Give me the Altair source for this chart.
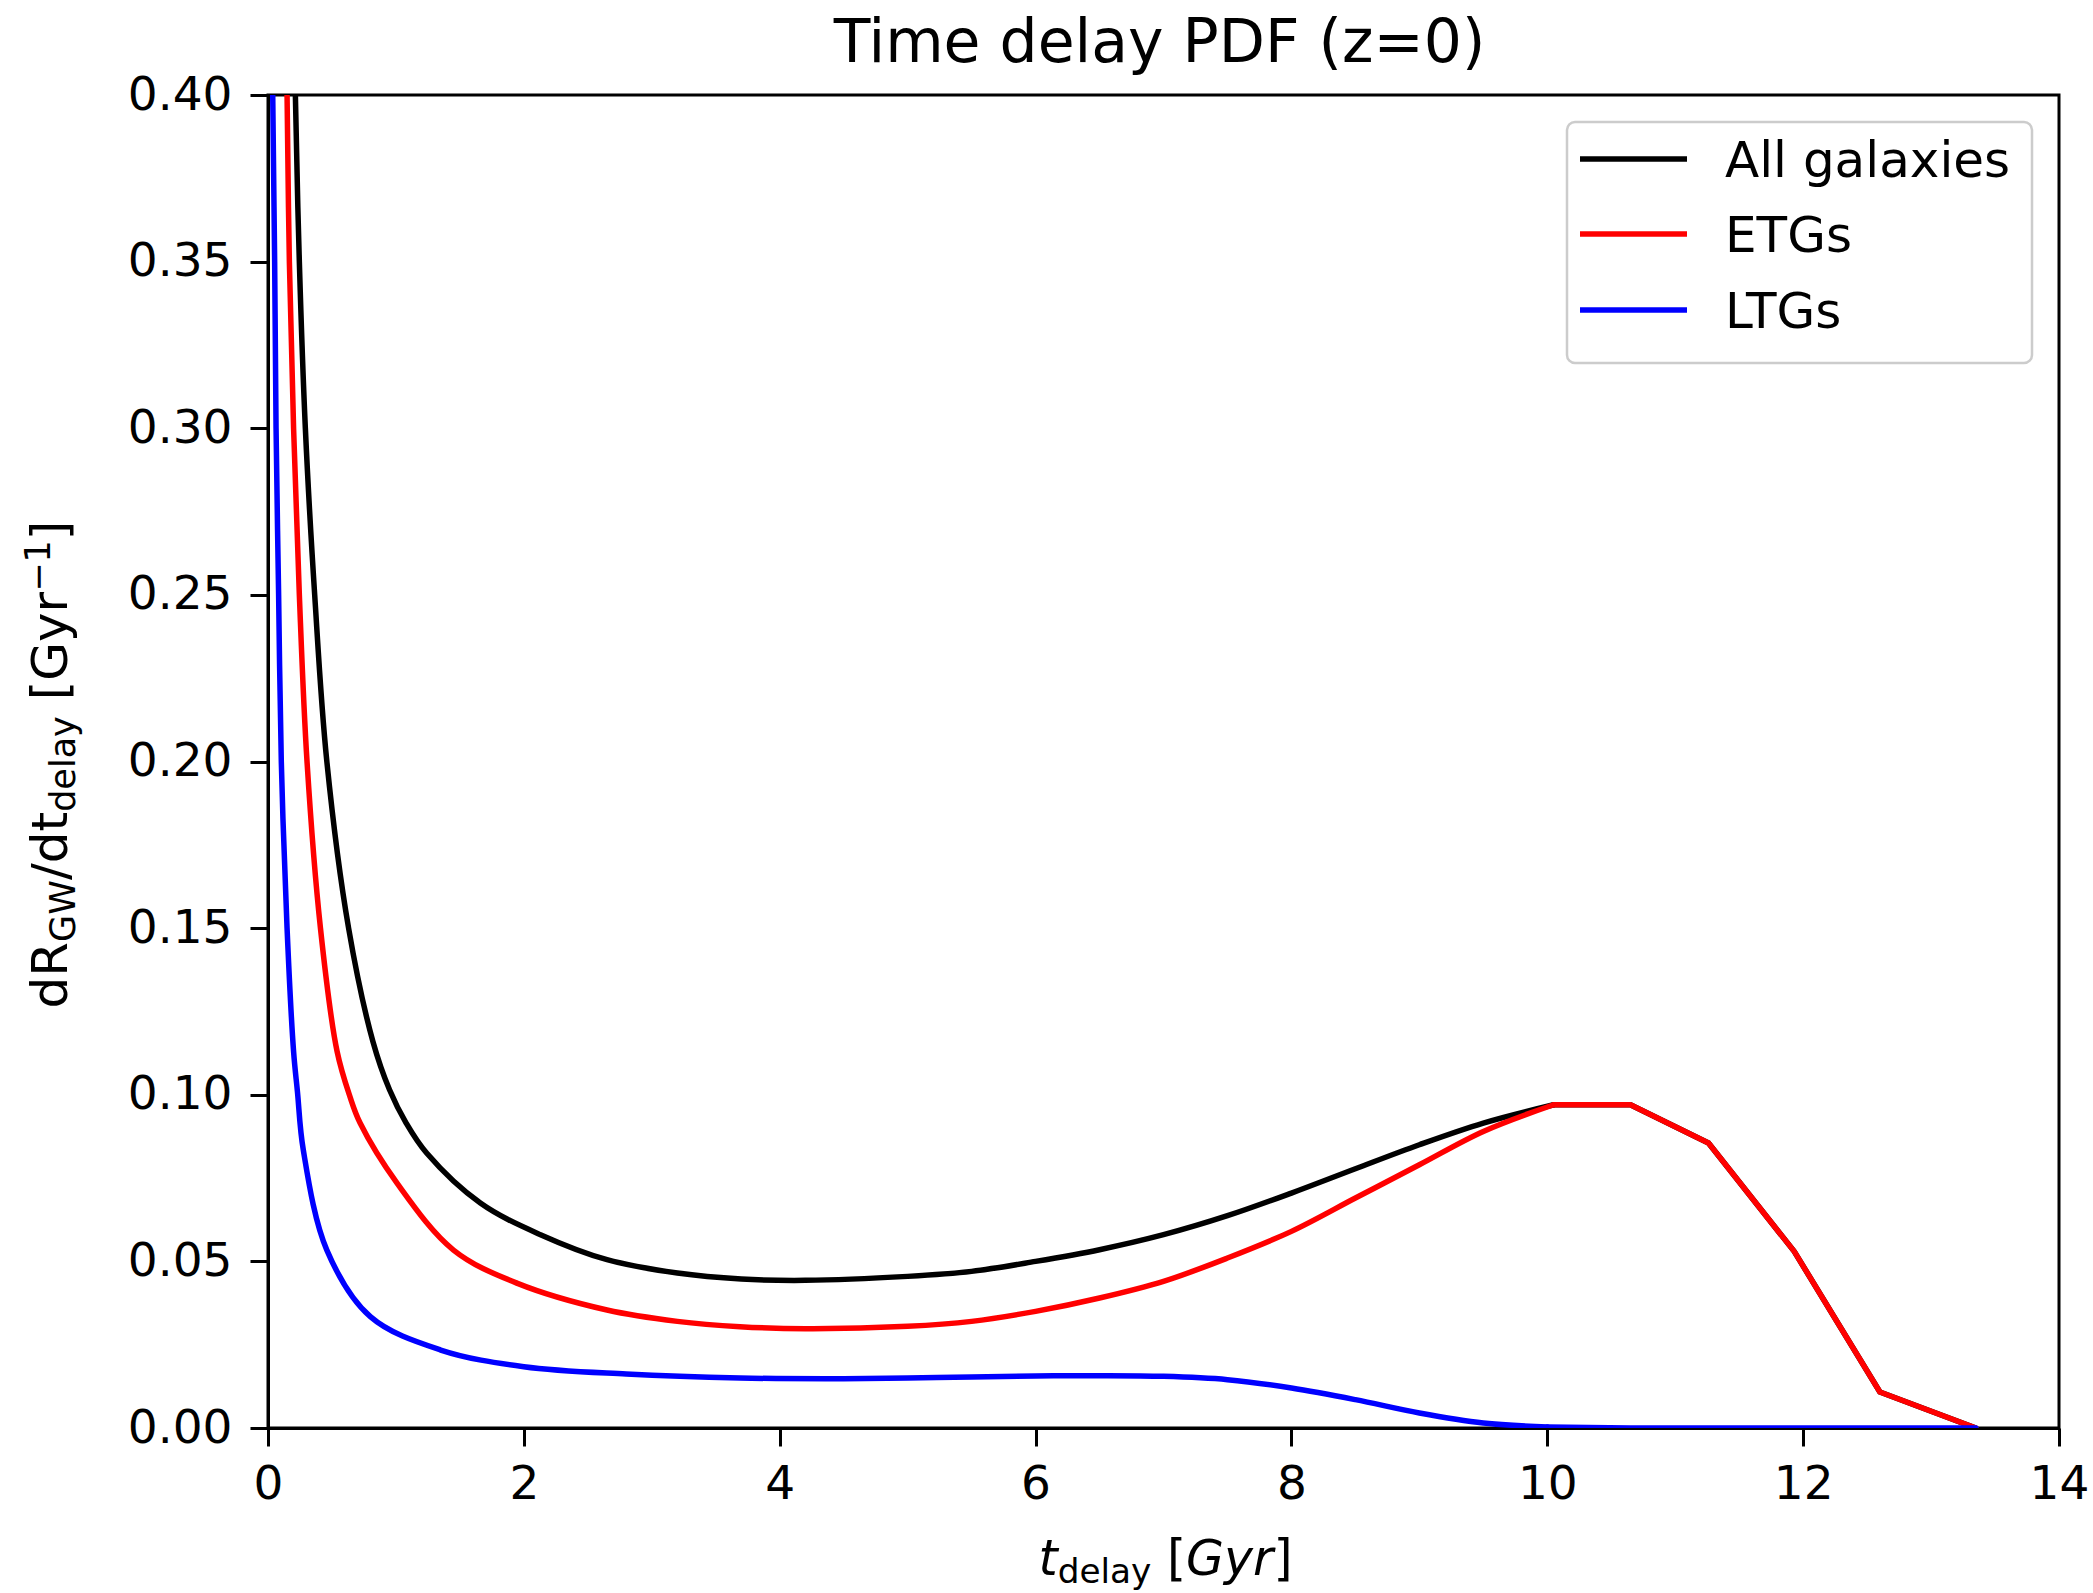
import altair as alt
import pandas as pd

# ---------------- data ----------------
series_names = ["All galaxies", "ETGs", "LTGs"]
series_colors = ["#000000", "#ff0000", "#0000ff"]

t_all = [0.18, 0.214, 0.245, 0.292, 0.365, 0.46, 0.63, 0.82, 0.95, 1.08, 1.24, 1.66, 2.13,
         2.65, 3.2, 3.7, 4.2, 5.0, 5.5, 6.0, 6.5, 7.0, 7.5, 8.0, 8.5, 9.0, 9.5,
         10.05, 10.65, 11.26, 11.93, 12.6, 13.35]
v_all = [0.48, 0.40, 0.35, 0.30, 0.25, 0.20, 0.15, 0.116, 0.1015, 0.0915, 0.0825, 0.0675,
         0.058, 0.0505, 0.0465, 0.0447, 0.0443, 0.0455, 0.047, 0.050, 0.0535, 0.058, 0.0637,
         0.0705, 0.0778, 0.085, 0.0915, 0.097, 0.097, 0.0855, 0.053, 0.0108, 0.0]

t_etg = [0.12, 0.149, 0.167, 0.20, 0.245, 0.305, 0.41, 0.54, 0.64, 0.72, 1.01, 1.45,
         1.95, 2.65, 3.2, 3.69, 4.2, 5.0, 5.5, 6.0, 6.5, 7.0, 7.5, 8.0, 8.5, 9.0, 9.5,
         10.05, 10.65, 11.26, 11.93, 12.6, 13.35]
v_etg = [0.48, 0.40, 0.35, 0.30, 0.25, 0.20, 0.15, 0.113, 0.0995, 0.0915, 0.0734, 0.0534,
         0.0434, 0.0354, 0.032, 0.0304, 0.0298, 0.0305, 0.032, 0.035, 0.039, 0.044, 0.051,
         0.059, 0.069, 0.079, 0.089, 0.097, 0.097, 0.0855, 0.053, 0.0108, 0.0]

t_ltg = [0.025, 0.037, 0.052, 0.063, 0.083, 0.104, 0.149, 0.20, 0.23, 0.276, 0.46, 0.80,
         1.35, 2.0, 2.8, 3.69, 4.5, 5.0, 5.5, 6.0, 6.5, 7.0, 7.5, 8.0, 8.5, 9.0, 9.5,
         10.0, 10.65, 11.26, 11.93, 12.6, 13.35]
v_ltg = [0.48, 0.40, 0.35, 0.30, 0.25, 0.20, 0.15, 0.113, 0.101, 0.0834, 0.0534, 0.0334,
         0.0234, 0.0184, 0.0162, 0.015, 0.0148, 0.0150, 0.0153, 0.0156, 0.0157, 0.0155,
         0.0145, 0.012, 0.0085, 0.0045, 0.0015, 0.0003, 0.0, 0.0, 0.0, 0.0, 0.0]

x_ticks = [0, 2, 4, 6, 8, 10, 12, 14]
y_ticks = [0.0, 0.05, 0.10, 0.15, 0.20, 0.25, 0.30, 0.35, 0.40]

title_text = "Time delay PDF (z=0)"

# ---------------- layout constants ----------------
W, H = 1791, 1333
FONT = "DejaVu Sans"
SPLIT = 10.05          # smooth part / piecewise-linear tail
LW = 5.5

# DejaVu Sans advance widths (units per 2048 em) for text layout
ADV = {'d': 1300, 'R': 1423, 'G': 1595, 'W': 2025, '/': 690, 't': 803, 'e': 1260,
       'l': 569, 'a': 1255, 'y': 1212, ' ': 651, '[': 799, 'r': 842, '\u2212': 1716,
       '1': 1303, ']': 799}


def tw(s, fs):
    return sum(ADV[c] for c in s) / 2048.0 * fs


rows = []
for name, ts, vs in zip(series_names, [t_all, t_etg, t_ltg], [v_all, v_etg, v_ltg]):
    for t, v in zip(ts, vs):
        rows.append({"series": name, "t": t, "v": v})
df = pd.DataFrame(rows)

x_enc = alt.X("t:Q", scale=alt.Scale(domain=[0, 14], nice=False, zero=False),
              axis=alt.Axis(values=x_ticks, format="d", title=None, labelPadding=15,
                            labelFlush=False))
y_enc = alt.Y("v:Q", scale=alt.Scale(domain=[0, 0.4], nice=False),
              axis=alt.Axis(values=y_ticks, format=".2f", title=None, labelPadding=18,
                            labelFlush=False))

layers = []
for name, color in zip(series_names, series_colors):
    sub = df[df.series == name]
    smooth_df = sub[sub.t <= SPLIT]
    tail_df = sub[sub.t >= smooth_df.t.max()]
    smooth = alt.Chart(smooth_df).mark_line(
        clip=True, color=color, strokeWidth=LW, interpolate="catmull-rom",
        strokeCap="round", strokeJoin="round").encode(x=x_enc, y=y_enc)
    tail = alt.Chart(tail_df).mark_line(
        clip=True, color=color, strokeWidth=LW, interpolate="linear",
        strokeCap="round", strokeJoin="round").encode(x=x_enc, y=y_enc)
    layers += [smooth, tail]


def text_layer(txt, x, y, fs, angle=0, italic=False, align="left"):
    kw = dict(font=FONT, fontSize=fs, align=align, baseline="alphabetic", color="#000000")
    if angle:
        kw["angle"] = angle
    if italic:
        kw["fontStyle"] = "italic"
    return alt.Chart(pd.DataFrame({"label": [txt]})).mark_text(**kw).encode(
        text="label:N", x=alt.value(x), y=alt.value(y))


# ---------------- title ----------------
layers.append(text_layer(title_text, W / 2 - 4, -33, 60, align="center"))

# ---------------- x axis title: t_delay [Gyr] ----------------
FX = 49
SX = 0.7 * FX
xpieces = [("t", FX, 0, True), ("delay", SX, 8, False), (" ", FX, 0, False),
           ("[", FX, 0, False), ("Gyr", FX, 0, True), ("]", FX, 0, False)]
total = sum(tw(s, f) for s, f, _, _ in xpieces)
cx = W / 2 + 2 - total / 2
base_y = 1480
for s, f, dy, it in xpieces:
    if s.strip():
        layers.append(text_layer(s, cx, base_y + dy, f, italic=it))
    cx += tw(s, f)

# ---------------- y axis title: dR_GW/dt_delay [Gyr^-1] ----------------
FY = 50
SY = 0.7 * FY
ypieces = [("dR", FY, 0), ("GW", SY, 8), ("/dt", FY, 0), ("delay", SY, 8),
           (" ", FY, 0), ("[Gyr", FY, 0), ("\u22121", SY, -17), ("]", FY, 0)]
total = sum(tw(s, f) for s, f, _ in ypieces)
cy = H / 2 + 3 + total / 2
base_x = -201
for s, f, dx in ypieces:
    if s.strip():
        layers.append(text_layer(s, base_x + dx, cy, f, angle=270))
    cy -= tw(s, f)

# ---------------- legend (upper right, inside the axes) ----------------
leg_box = alt.Chart(pd.DataFrame({"k": [0]})).mark_rect(
    fill="#ffffff", fillOpacity=0.8, stroke="#cccccc", strokeWidth=2.5, cornerRadius=8
).encode(x=alt.value(1299), x2=alt.value(1764), y=alt.value(27), y2=alt.value(268))
layers.append(leg_box)
row_y = [64, 139, 215]
for name, color, ry in zip(series_names, series_colors, row_y):
    layers.append(alt.Chart(pd.DataFrame({"k": [0]})).mark_rule(
        color=color, strokeWidth=LW).encode(
        x=alt.value(1312), x2=alt.value(1419), y=alt.value(ry)))
    layers.append(text_layer(name, 1457, ry + 18, 50))

chart = alt.layer(*layers).properties(
    width=W, height=H,
    autosize=alt.AutoSizeParams(type="none"),
    padding={"left": 268, "top": 95, "right": 34, "bottom": 165},
).configure(
    background="#ffffff"
).configure_view(
    stroke="#000000", strokeWidth=3
).configure_axis(
    grid=False, domainColor="#000000", domainWidth=3, tickColor="#000000",
    tickWidth=3, tickSize=18, labelFont=FONT, labelFontSize=47, labelColor="#000000"
)

chart.save("out.html", embed_options={"renderer": "svg", "actions": False})
